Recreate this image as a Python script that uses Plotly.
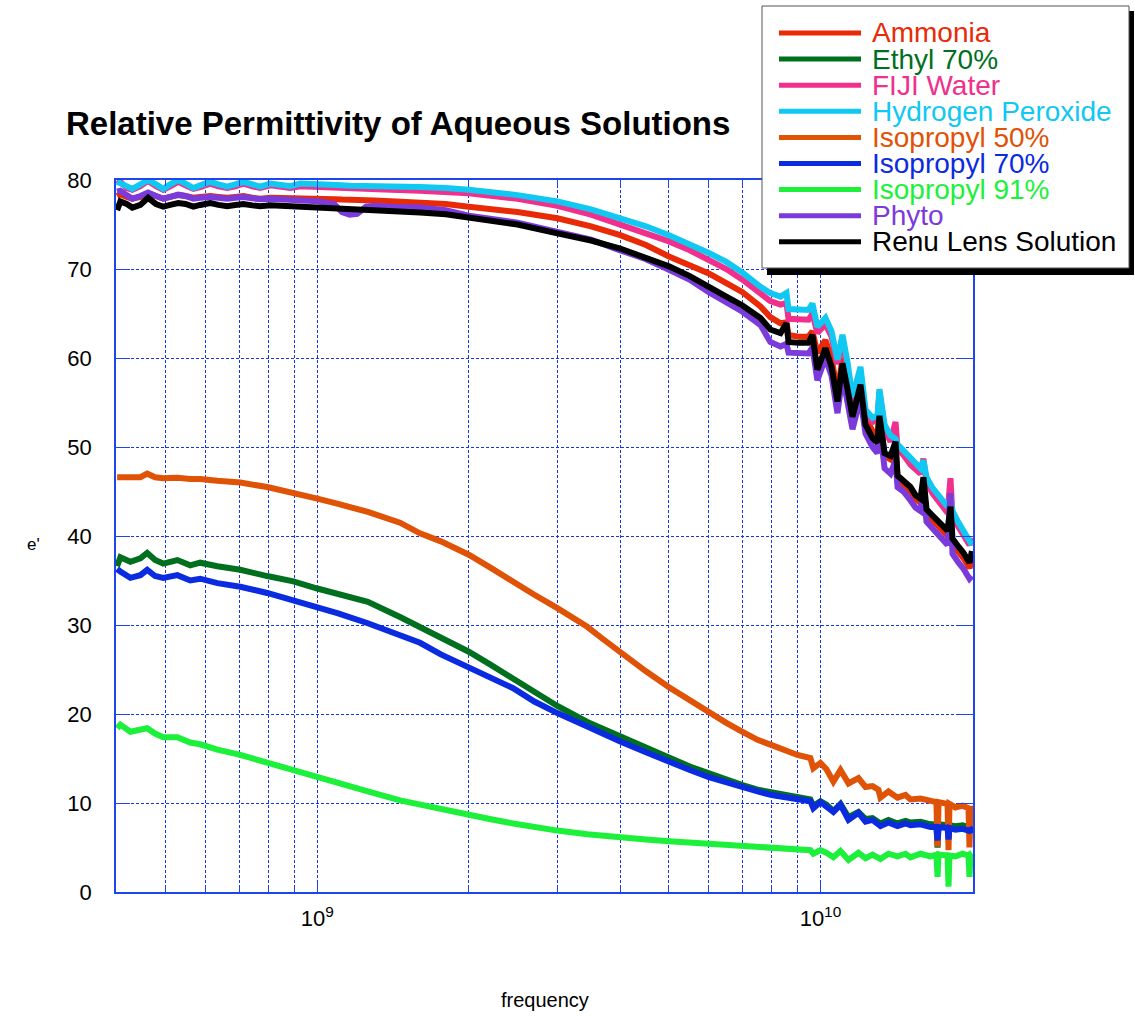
import math
import plotly.graph_objects as go

# ---- Water-based samples: frequency sweep (GHz) and relative permittivity e'
freq_water_ghz = [
    0.400, 0.406, 0.418, 0.429, 0.445, 0.461, 0.478, 0.494, 0.510, 0.529,
    0.547, 0.567, 0.585, 0.613, 0.636, 0.662, 0.687, 0.713, 0.743, 0.770,
    0.807, 0.844, 0.884, 0.925, 1.00, 1.08, 1.12, 1.16, 1.20, 1.25,
    1.30, 1.40, 1.60, 1.80, 2.00, 2.50, 3.00, 3.50, 4.00, 4.50,
    5.00, 5.50, 6.00, 6.50, 7.00, 7.60, 7.95, 8.33, 8.56, 8.64,
    9.04, 9.47, 9.64, 9.86, 10.23, 10.52, 10.81, 11.06, 11.32, 11.58,
    12.01, 12.29, 12.69, 12.98, 13.10, 13.41, 13.78, 14.10, 14.23, 14.62,
    15.10, 15.45, 15.81, 16.02, 16.25, 16.70, 17.09, 17.32, 17.89, 18.13,
    18.30, 18.81, 19.25, 19.78, 20.00,
]

ammonia = [
    78.2, 78.4, 78.1, 77.9, 78.1, 78.5, 78.2, 77.9, 78.1, 78.3,
    78.2, 78.0, 78.1, 78.2, 78.1, 78.0, 78.1, 78.2, 78.0, 77.9,
    78.0, 78.0, 77.9, 78.0, 77.9, 77.85, 77.8, 77.8, 77.75, 77.7,
    77.7, 77.6, 77.5, 77.3, 77.0, 76.4, 75.7, 74.8, 73.8, 72.7,
    71.4, 70.5, 69.5, 68.4, 67.4, 65.8, 64.6, 63.9, 64.0, 62.6,
    62.4, 62.4, 63.0, 60.6, 62.0, 60.0, 56.0, 60.0, 57.2, 54.0,
    57.5, 53.2, 51.8, 51.3, 54.0, 49.0, 48.6, 50.0, 46.4, 45.8,
    45.0, 44.2, 43.7, 45.8, 42.5, 41.8, 41.2, 40.8, 40.0, 42.5,
    39.0, 38.2, 37.5, 36.4, 37.2,
]

fiji_water = [
    80.0, 79.8, 79.1, 78.9, 79.3, 79.9, 79.3, 78.9, 79.3, 79.8,
    79.4, 79.0, 79.2, 79.6, 79.3, 79.1, 79.3, 79.6, 79.3, 79.1,
    79.4, 79.3, 79.1, 79.3, 79.2, 79.1, 79.1, 79.05, 79.0, 79.0,
    78.95, 78.9, 78.8, 78.7, 78.5, 77.9, 77.1, 76.1, 75.0, 74.1,
    73.1, 72.1, 71.1, 70.0, 68.8, 67.2, 66.4, 66.0, 66.2, 64.4,
    64.3, 64.3, 65.0, 62.8, 63.8, 62.4, 59.3, 62.0, 58.8, 55.0,
    58.3, 53.7, 52.8, 53.0, 56.2, 52.0, 50.6, 52.8, 49.8, 49.1,
    48.0, 47.4, 47.0, 48.7, 46.0, 44.8, 44.0, 43.6, 42.6, 46.5,
    42.2, 41.0, 40.1, 39.0, 39.8,
]

hydrogen_peroxide = [
    79.8, 79.6, 79.2, 79.0, 79.5, 80.0, 79.5, 79.0, 79.5, 80.0,
    79.6, 79.1, 79.4, 79.8, 79.5, 79.25, 79.5, 79.8, 79.5, 79.25,
    79.6, 79.5, 79.3, 79.6, 79.45, 79.4, 79.4, 79.35, 79.35, 79.3,
    79.3, 79.25, 79.2, 79.1, 78.9, 78.3, 77.6, 76.7, 75.7, 74.8,
    73.8, 72.8, 71.8, 70.8, 69.6, 68.0, 67.3, 66.9, 67.3, 65.5,
    65.4, 65.4, 66.1, 63.5, 64.5, 63.0, 59.8, 62.6, 59.5, 55.6,
    59.0, 54.2, 53.3, 53.5, 56.5, 52.5, 51.3, 50.9, 50.3, 49.6,
    48.6, 48.0, 47.6, 48.5, 46.6, 45.4, 44.6, 44.2, 43.3, 44.3,
    42.8, 41.5, 40.6, 39.4, 39.0,
]

phyto = [
    78.7, 78.8, 78.3, 77.9, 78.2, 78.6, 78.2, 77.9, 78.1, 78.35,
    78.2, 77.9, 78.0, 78.1, 78.0, 77.9, 78.0, 78.1, 77.95, 77.85,
    77.9, 77.85, 77.8, 77.75, 77.6, 77.3, 76.4, 76.1, 76.2, 77.0,
    77.1, 77.0, 76.9, 76.6, 76.0, 75.2, 74.2, 73.3, 72.1, 71.1,
    69.9, 68.8, 67.4, 66.3, 65.2, 63.7, 61.8, 61.3, 61.6, 60.6,
    60.5, 60.5, 61.2, 57.5, 60.0, 58.0, 53.8, 58.0, 55.0, 52.0,
    55.5, 51.5, 50.0, 49.3, 52.5, 47.6, 47.0, 48.5, 45.5, 45.0,
    44.0, 43.2, 42.8, 45.0, 41.6, 40.8, 40.2, 39.8, 39.0, 44.8,
    38.0, 37.0, 36.3, 35.2, 35.5,
]

renu_lens_solution = [
    76.6, 77.6, 77.3, 76.9, 77.2, 78.0, 77.3, 77.0, 77.2, 77.4,
    77.3, 77.0, 77.2, 77.4, 77.2, 77.05, 77.2, 77.3, 77.15, 77.05,
    77.15, 77.1, 77.0, 77.05, 76.95, 76.9, 76.85, 76.8, 76.75, 76.7,
    76.65, 76.55, 76.35, 76.15, 75.8, 75.0, 74.0, 73.2, 72.3, 71.3,
    70.3, 69.2, 67.9, 66.9, 65.9, 64.5, 63.2, 62.8, 63.9, 61.8,
    61.7, 61.7, 62.6, 58.7, 61.1, 59.0, 55.1, 59.4, 56.5, 53.4,
    57.0, 52.5, 51.0, 50.5, 53.5, 49.3, 49.0, 50.6, 46.8, 46.2,
    45.5, 44.6, 44.2, 46.6, 43.0, 42.3, 41.8, 41.4, 40.6, 43.3,
    39.7, 38.8, 38.1, 37.0, 38.3,
]

# ---- Alcohol mixtures: frequency sweep (GHz) and relative permittivity e'
freq_alcohol_ghz = [
    0.400, 0.406, 0.425, 0.445, 0.459, 0.476, 0.494, 0.527, 0.559, 0.585,
    0.633, 0.703, 0.795, 0.896, 1.00, 1.10, 1.26, 1.46, 1.60, 1.76,
    2.00, 2.20, 2.45, 2.70, 3.00, 3.44, 3.70, 4.00, 4.50, 5.00,
    5.50, 6.00, 6.50, 7.00, 7.50, 8.00, 8.60, 9.00, 9.55, 9.68,
    10.00, 10.28, 10.61, 10.96, 11.37, 11.90, 12.29, 12.69, 13.04, 13.16,
    13.65, 14.23, 14.76, 15.10, 15.81, 16.55, 17.00, 17.09, 17.17, 17.89,
    17.97, 18.05, 18.55, 19.16, 19.69, 19.78, 19.87, 20.00,
]

ethyl_70 = [
    36.6, 37.6, 37.1, 37.5, 38.1, 37.3, 36.9, 37.3, 36.7, 37.0,
    36.6, 36.2, 35.5, 34.9, 34.1, 33.5, 32.6, 30.9, 29.8, 28.6,
    27.0, 25.6, 24.0, 22.6, 20.9, 19.1, 18.3, 17.4, 16.1, 15.1,
    14.1, 13.3, 12.6, 12.0, 11.5, 11.2, 10.9, 10.7, 10.4, 9.7,
    10.2, 9.8, 9.1, 9.9, 8.4, 9.0, 8.2, 8.3, 7.9, 7.7,
    8.1, 7.7, 8.0, 7.8, 7.9, 7.6, 7.6, 5.0, 7.6, 7.5,
    6.0, 7.5, 7.4, 7.5, 7.3, 6.5, 7.3, 7.1,
]

isopropyl_50 = [
    46.6, 46.6, 46.5, 46.6, 47.0, 46.6, 46.5, 46.55, 46.4, 46.4,
    46.2, 46.0, 45.5, 44.9, 44.2, 43.6, 42.7, 41.5, 40.3, 39.4,
    37.9, 36.5, 34.8, 33.4, 31.9, 29.8, 28.4, 26.9, 24.8, 23.0,
    21.5, 20.2, 19.0, 18.0, 17.1, 16.5, 15.8, 15.4, 15.05, 13.9,
    14.5, 13.8, 12.4, 13.7, 12.2, 12.8, 11.8, 11.9, 11.5, 10.6,
    11.3, 10.6, 10.9, 10.4, 10.5, 10.2, 10.1, 5.1, 10.1, 9.9,
    4.7, 9.9, 9.5, 9.7, 9.4, 5.0, 9.6, 9.2,
]

isopropyl_70 = [
    36.3, 36.0, 35.3, 35.6, 36.2, 35.5, 35.3, 35.6, 35.0, 35.2,
    34.7, 34.3, 33.6, 32.8, 32.0, 31.3, 30.2, 28.9, 28.0, 26.7,
    25.2, 24.0, 22.9, 21.4, 20.1, 18.6, 17.7, 16.9, 15.7, 14.6,
    13.7, 12.9, 12.3, 11.7, 11.3, 10.9, 10.6, 10.4, 10.2, 9.4,
    10.1, 9.6, 9.0, 9.8, 8.1, 8.9, 7.9, 8.1, 7.5, 7.4,
    7.8, 7.4, 7.7, 7.5, 7.6, 7.3, 7.3, 5.8, 7.3, 7.2,
    5.9, 7.2, 7.0, 7.1, 6.9, 6.9, 7.0, 6.6,
]

isopropyl_91 = [
    18.4, 18.8, 18.0, 18.2, 18.4, 17.8, 17.4, 17.4, 16.8, 16.6,
    16.0, 15.4, 14.5, 13.7, 12.9, 12.2, 11.3, 10.3, 9.8, 9.4,
    8.7, 8.2, 7.7, 7.3, 6.9, 6.5, 6.3, 6.1, 5.9, 5.7,
    5.55, 5.4, 5.3, 5.2, 5.05, 4.9, 4.9, 4.85, 4.7, 4.3,
    4.7, 4.4, 3.9, 4.6, 3.6, 4.4, 3.8, 4.2, 3.7, 3.7,
    4.3, 4.0, 4.3, 3.9, 4.3, 4.0, 4.2, 1.7, 4.2, 4.1,
    0.6, 4.1, 4.0, 4.3, 4.1, 1.7, 4.3, 4.4,
]

series_names = [
    "Ammonia", "Ethyl 70%", "FIJI Water", "Hydrogen Peroxide", "Isopropyl 50%",
    "Isopropyl 70%", "Isopropyl 91%", "Phyto", "Renu Lens Solution",
]
series_colors = [
    "#e82a06", "#00701f", "#f0308c", "#10c8f2", "#e05206",
    "#0a2be0", "#1cf03a", "#7b3bdb", "#000000",
]
series_freqs = [
    freq_water_ghz, freq_alcohol_ghz, freq_water_ghz, freq_water_ghz, freq_alcohol_ghz,
    freq_alcohol_ghz, freq_alcohol_ghz, freq_water_ghz, freq_water_ghz,
]
series_values = [
    ammonia, ethyl_70, fiji_water, hydrogen_peroxide, isopropyl_50,
    isopropyl_70, isopropyl_91, phyto, renu_lens_solution,
]

y_ticks = [0, 10, 20, 30, 40, 50, 60, 70, 80]
x_major_ticks = [1e9, 1e10]
x_major_labels = ["10<sup>9</sup>", "10<sup>10</sup>"]
x_minor_ticks = [5e8, 6e8, 7e8, 8e8, 9e8,
                 2e9, 3e9, 4e9, 5e9, 6e9, 7e9, 8e9, 9e9]

FONT = "Liberation Sans, Arial, Helvetica, sans-serif"
GRID = "#1536e6"
BORDER = "#1f45f0"

W, H = 1135, 1018
M_L, M_R, M_T, M_B = 116, 162, 180, 126
PLOT_W = W - M_L - M_R
PLOT_H = H - M_T - M_B


def px(xp):
    return (xp - M_L) / PLOT_W


def py(yp):
    return (H - M_B - yp) / PLOT_H


fig = go.Figure()
for name, color, freqs, vals in zip(series_names, series_colors, series_freqs, series_values):
    fig.add_trace(go.Scatter(
        x=[f * 1e9 for f in freqs], y=vals, mode="lines", name=name,
        line=dict(color=color, width=6), showlegend=False,
    ))

fig.update_xaxes(
    type="log", range=[math.log10(3.98e8), math.log10(2.01e10)],
    tickmode="array", tickvals=x_major_ticks, ticktext=x_major_labels,
    tickfont=dict(family=FONT, size=22, color="black"),
    showgrid=True, gridcolor=GRID, gridwidth=1, griddash="3px,2px",
    showline=True, linecolor=BORDER, linewidth=1.5, mirror="ticks",
    ticks="inside", ticklen=10, tickcolor=BORDER, tickwidth=1,
    minor=dict(tickmode="array", tickvals=x_minor_ticks, showgrid=True,
               gridcolor=GRID, gridwidth=1, griddash="3px,2px",
               ticks="inside", ticklen=6, tickcolor=BORDER),
    zeroline=False, ticklabelstandoff=6,
)
fig.update_yaxes(
    range=[0, 80], tickmode="array", tickvals=y_ticks,
    tickfont=dict(family=FONT, size=22, color="black"),
    showgrid=True, gridcolor=GRID, gridwidth=1, griddash="3px,2px",
    showline=True, linecolor=BORDER, linewidth=1.5, mirror="ticks",
    ticks="inside", ticklen=14, tickcolor=BORDER, tickwidth=1,
    zeroline=False, ticklabelstandoff=18,
)

shapes = []
annotations = []

# Legend box with drop shadow
shapes.append(dict(type="rect", xref="paper", yref="paper",
                   x0=px(767), x1=px(1134), y0=py(275), y1=py(11),
                   fillcolor="black", line=dict(width=0), layer="above"))
shapes.append(dict(type="rect", xref="paper", yref="paper",
                   x0=px(762), x1=px(1129), y0=py(268), y1=py(6),
                   fillcolor="white", line=dict(color="#555555", width=1), layer="above"))
for i, (name, color) in enumerate(zip(series_names, series_colors)):
    row_y = 33 + 26.1 * i
    shapes.append(dict(type="line", xref="paper", yref="paper",
                       x0=px(779), x1=px(861), y0=py(row_y), y1=py(row_y),
                       line=dict(color=color, width=5), layer="above"))
    annotations.append(dict(xref="paper", yref="paper", x=px(870), y=py(row_y),
                            xanchor="left", yanchor="middle", showarrow=False,
                            text=name, font=dict(family=FONT, size=28, color=color)))

# Title and axis captions
annotations.append(dict(xref="paper", yref="paper", x=px(64), y=py(123),
                        xanchor="left", yanchor="middle", showarrow=False,
                        text="<b>Relative Permittivity of Aqueous Solutions</b>",
                        font=dict(family=FONT, size=33, color="black")))
annotations.append(dict(xref="paper", yref="paper", x=px(33), y=py(544),
                        xanchor="center", yanchor="middle", showarrow=False,
                        text="e'", font=dict(family=FONT, size=17, color="black")))
annotations.append(dict(xref="paper", yref="paper", x=px(545), y=py(1000),
                        xanchor="center", yanchor="middle", showarrow=False,
                        text="frequency", font=dict(family=FONT, size=20, color="black")))

fig.update_layout(
    width=W, height=H, autosize=False,
    margin=dict(l=M_L, r=M_R, t=M_T, b=M_B, pad=0),
    paper_bgcolor="white", plot_bgcolor="white",
    font=dict(family=FONT, color="black"),
    showlegend=False, shapes=shapes, annotations=annotations,
)

fig.write_html("out.html")
